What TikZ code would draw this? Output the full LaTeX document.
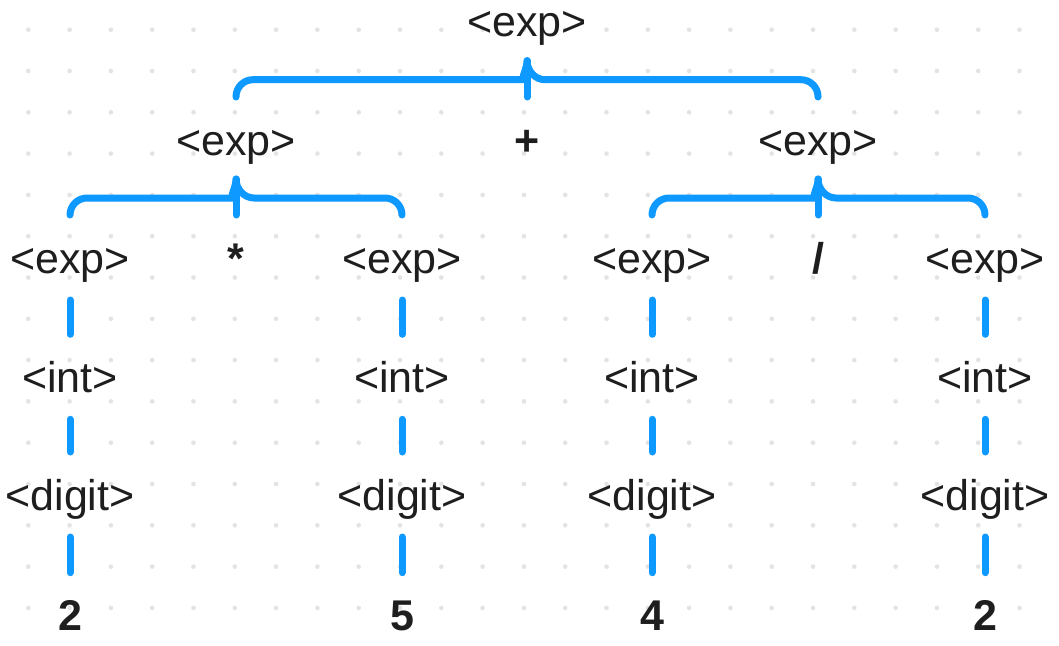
\documentclass[tikz,border=0pt]{standalone}
\usepackage{fontspec}
\setmainfont{Liberation Sans}
\usetikzlibrary{calc}
\definecolor{bblue}{HTML}{0D99FF}
\definecolor{ink}{HTML}{1E1E1E}
\definecolor{dotc}{HTML}{E3E3E3}
\newcommand\mybrace[3]{%
  \coordinate (#1-tip) at ($(#1.base)+(0,24)$);
  \coordinate (#1-h) at ($(#1.base)+(0,43)$);
  \coordinate (#1-bl) at ($(#2.base)+(0,-58)$);
  \coordinate (#1-br) at ($(#3.base)+(0,-58)$);
  \draw[brace] (#1-bl) [rounded corners=17] |- ($(#1-h)+(-18,0)$) [sharp corners]
    .. controls ($(#1-h)+(-8,0)$) and ($(#1-tip)+(0,10)$) .. (#1-tip)
    .. controls ($(#1-tip)+(0,10)$) and ($(#1-h)+(8,0)$) .. ($(#1-h)+(18,0)$)
    [rounded corners=17] -| (#1-br);
  \draw[brace] (#1-tip) -- (#1-tip |- #1-bl);
}
\begin{document}
\begin{tikzpicture}[x=1pt,y=-1pt,
  lbl/.style={anchor=base, inner sep=0pt, text=ink, font=\fontsize{43}{50}\selectfont},
  sym/.style={lbl, font=\fontsize{43}{50}\selectfont\bfseries},
  conn/.style={draw=bblue, line width=7pt, line cap=round},
  brace/.style={conn, line join=round}]
\useasboundingbox[fill=white] (0,0) rectangle (1059,645);
% dot grid
\foreach \i in {0,...,24}{
  \foreach \j in {0,...,14}{
    \fill[dotc] (28.3+41.3*\i, 29.7+41.3*\j) circle (2.3);
  }
}
% level 1
\node[lbl] (r) at (527,36.7) {<exp>};
% level 2
\node[lbl] (L) at (236,155) {<exp>};
\node[sym] (plus) at (527,155) {+};
\node[lbl] (R) at (818,155) {<exp>};
% level 3
\node[lbl] (a) at (70,273) {<exp>};
\node[sym] (star) at (236,273) {*};
\node[lbl] (b) at (402,273) {<exp>};
\node[lbl] (c) at (652,273) {<exp>};
\node[sym] (slash) at (818,273) {/};
\node[lbl] (d) at (985,273) {<exp>};
% level 4
\node[lbl] (ia) at (70,392.3) {<int>};
\node[lbl] (ib) at (402,392.3) {<int>};
\node[lbl] (ic) at (652,392.3) {<int>};
\node[lbl] (id) at (985,392.3) {<int>};
% level 5
\node[lbl] (ga) at (70,510) {<digit>};
\node[lbl] (gb) at (402,510) {<digit>};
\node[lbl] (gc) at (652,510) {<digit>};
\node[lbl] (gd) at (985,510) {<digit>};
% level 6
\node[sym] (na) at (70,630.7) {2};
\node[sym] (nb) at (402,630.7) {5};
\node[sym] (nc) at (652,630.7) {4};
\node[sym] (nd) at (985,630.7) {2};
% braces
\mybrace{r}{L}{R}
\mybrace{L}{a}{b}
\mybrace{R}{c}{d}
% vertical connectors
\foreach \u/\v in {a/ia,b/ib,c/ic,d/id,ia/ga,ib/gb,ic/gc,id/gd,ga/na,gb/nb,gc/nc,gd/nd}{
  \draw[conn] ($(\u.base)+(0,27)$) -- ($(\v.base)+(0,-58)$);
}
\end{tikzpicture}
\end{document}
